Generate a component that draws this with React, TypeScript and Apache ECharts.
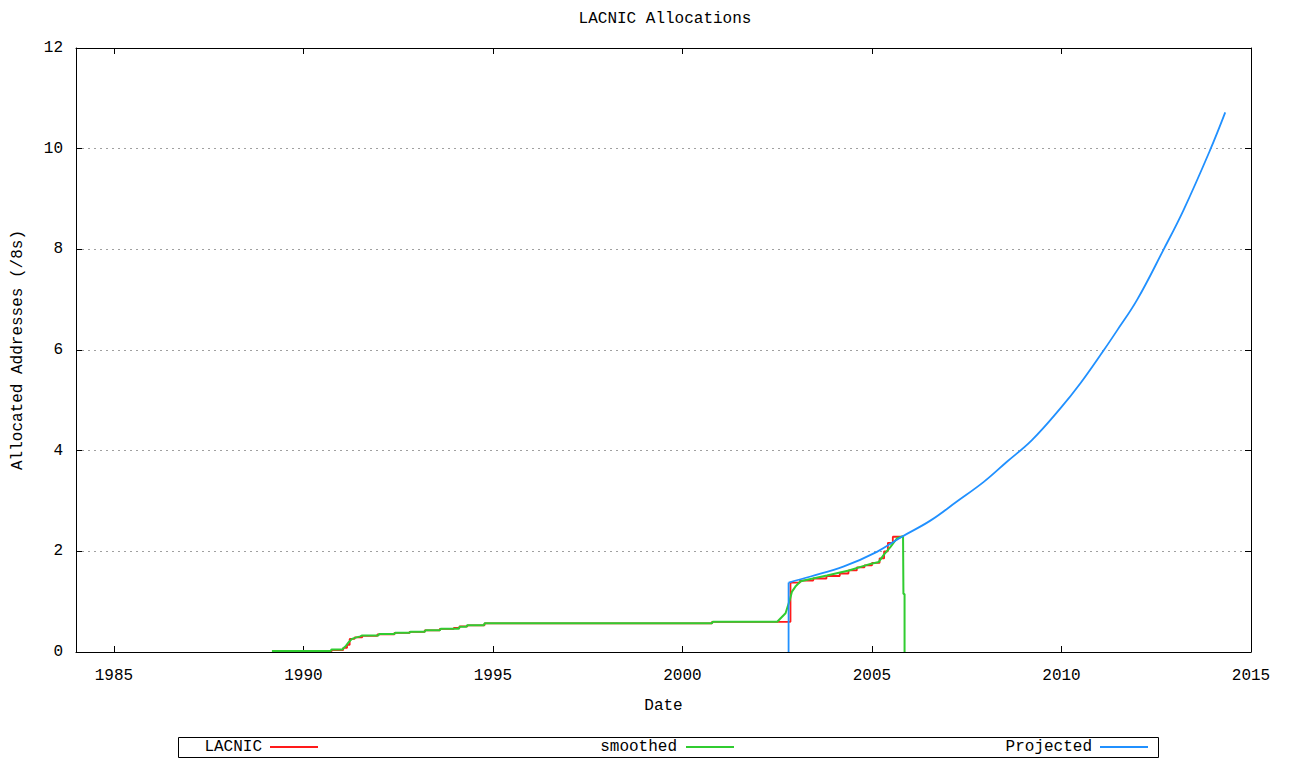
import React, { useEffect, useRef } from "react";
import * as echarts from "echarts";

const titleText = "LACNIC Allocations";
const xTicks = [1985, 1990, 1995, 2000, 2005, 2010, 2015];
const yTicks = [0, 2, 4, 6, 8, 10, 12];

// Cumulative allocations (step after each allocation date)
const lacnic: [number, number][] = [
  [1989.17, 0.02], [1990.75, 0.04], [1991.05, 0.08], [1991.15, 0.14], [1991.22, 0.26],
  [1991.35, 0.29], [1991.55, 0.32], [1991.95, 0.35], [1992.4, 0.38], [1992.8, 0.40],
  [1993.2, 0.43], [1993.6, 0.46], [1993.97, 0.48], [1994.12, 0.51], [1994.33, 0.53],
  [1994.78, 0.57], [2000.78, 0.60], [2002.85, 1.38], [2003.1, 1.42], [2003.45, 1.46],
  [2003.8, 1.51], [2004.15, 1.56], [2004.38, 1.62], [2004.6, 1.68], [2004.8, 1.72],
  [2005.0, 1.77], [2005.2, 1.86], [2005.32, 2.0], [2005.42, 2.17], [2005.55, 2.29],
  [2005.8, 2.29],
];

const smoothed: [number, number][] = [
  [1989.17, 0.02], [1990.72, 0.02], [1990.74, 0.05], [1991.03, 0.05], [1991.06, 0.08],
  [1991.12, 0.12], [1991.2, 0.2], [1991.28, 0.26], [1991.4, 0.29], [1991.5, 0.31],
  [1991.55, 0.33], [1991.98, 0.33], [1992.0, 0.36], [1992.4, 0.36], [1992.42, 0.38],
  [1992.8, 0.38], [1992.82, 0.40], [1993.2, 0.40], [1993.22, 0.43], [1993.6, 0.43],
  [1993.62, 0.46], [1994.1, 0.46], [1994.12, 0.50], [1994.3, 0.50], [1994.32, 0.53],
  [1994.76, 0.53], [1994.78, 0.57], [2000.78, 0.57], [2000.8, 0.60], [2002.5, 0.60],
  [2002.72, 0.77], [2002.83, 1.03], [2002.89, 1.2], [2002.98, 1.3], [2003.11, 1.40],
  [2003.2, 1.42], [2003.81, 1.52], [2004.39, 1.62], [2004.96, 1.75], [2005.18, 1.79],
  [2005.31, 1.93], [2005.49, 2.09], [2005.66, 2.26], [2005.82, 2.30], [2005.83, 1.15],
  [2005.86, 1.15], [2005.86, 0],
];

const projectedStart: [number, number][] = [
  [2002.8, 0], [2002.8, 1.38],
];

const projected: [number, number][] = [
  [2002.8, 1.38], [2003.38, 1.50], [2004.26, 1.70], [2005.13, 1.99],
  [2005.79, 2.29], [2006.54, 2.61], [2007.24, 2.99], [2007.95, 3.38], [2008.56, 3.78],
  [2009.22, 4.21], [2009.97, 4.84], [2010.5, 5.34], [2011.11, 5.99],
  [2011.46, 6.38], [2011.99, 6.99], [2012.69, 7.99], [2013.22, 8.78], [2013.92, 9.97],
  [2014.32, 10.72],
];

const seriesNames = ["LACNIC", "smoothed", "Projected"];
const seriesColors = ["#ff1a1a", "#30cc30", "#2090ff"];

const FONT = '"Liberation Mono", "DejaVu Sans Mono", monospace';

export default function App() {
  const ref = useRef<HTMLDivElement>(null);
  useEffect(() => {
    if (!ref.current) return;
    const chart = echarts.init(ref.current, undefined, { renderer: "svg" });
    const axisCommon = {
      axisLine: { show: true, onZero: false, lineStyle: { color: "#000", width: 1 } },
    };
    const legendY = 747;
    const legendItems = [
      { textRight: 262, x1: 270, x2: 318 },
      { textRight: 677, x1: 686, x2: 734 },
      { textRight: 1092, x1: 1100, x2: 1148 },
    ];
    const graphic: any[] = [
      {
        type: "rect",
        shape: { x: 178.5, y: 737.5, width: 980, height: 20 },
        style: { fill: "none", stroke: "#000", lineWidth: 1 },
      },
    ];
    legendItems.forEach((it, i) => {
      graphic.push({
        type: "text",
        x: it.textRight,
        y: legendY,
        style: {
          text: seriesNames[i],
          align: "right",
          verticalAlign: "middle",
          fontFamily: FONT,
          fontSize: 16,
          fill: "#000",
        },
      });
      graphic.push({
        type: "line",
        shape: { x1: it.x1, y1: legendY, x2: it.x2, y2: legendY },
        style: { stroke: seriesColors[i], lineWidth: 2 },
      });
    });

    const lw = 1.8;
    chart.setOption({
      animation: false,
      backgroundColor: "#fff",
      textStyle: { fontFamily: FONT },
      title: {
        text: titleText,
        left: 660,
        top: 6,
        textAlign: "center",
        textStyle: { fontFamily: FONT, fontSize: 16, fontWeight: "normal", color: "#000" },
      },
      grid: { left: 76, right: 38, top: 48, bottom: 108 },
      xAxis: [
        {
          type: "value",
          position: "bottom",
          min: 1984,
          max: 2015,
          name: "Date",
          nameLocation: "middle",
          nameGap: 46,
          nameTextStyle: { fontFamily: FONT, fontSize: 16, color: "#000" },
          ...axisCommon,
          axisTick: { show: true, inside: true, length: 6, customValues: xTicks, lineStyle: { color: "#000" } },
          axisLabel: {
            show: true,
            customValues: xTicks,
            margin: 16,
            fontFamily: FONT,
            fontSize: 16,
            color: "#000",
            formatter: (v: number) => String(v),
          },
          splitLine: { show: false },
        },
        {
          type: "value",
          position: "top",
          min: 1984,
          max: 2015,
          ...axisCommon,
          axisTick: { show: true, inside: true, length: 6, customValues: xTicks, lineStyle: { color: "#000" } },
          axisLabel: { show: false },
          splitLine: { show: false },
        },
      ],
      yAxis: [
        {
          type: "value",
          position: "left",
          min: 0,
          max: 12,
          interval: 2,
          name: "Allocated Addresses (/8s)",
          nameLocation: "middle",
          nameGap: 50,
          nameTextStyle: { fontFamily: FONT, fontSize: 16, color: "#000" },
          ...axisCommon,
          axisTick: { show: true, inside: true, length: 6, lineStyle: { color: "#000" } },
          axisLabel: { show: true, margin: 13, fontFamily: FONT, fontSize: 16, color: "#000" },
          splitLine: { show: true, lineStyle: { color: "#a0a0a0", type: [2, 4], width: 1 } },
        },
        {
          type: "value",
          position: "right",
          min: 0,
          max: 12,
          interval: 2,
          ...axisCommon,
          axisTick: { show: true, inside: true, length: 6, lineStyle: { color: "#000" } },
          axisLabel: { show: false },
          splitLine: { show: false },
        },
      ],
      series: [
        {
          name: seriesNames[0],
          type: "line",
          step: "end",
          data: lacnic,
          showSymbol: false,
          symbol: "none",
          lineStyle: { color: seriesColors[0], width: lw },
          itemStyle: { color: seriesColors[0] },
        },
        {
          name: seriesNames[1],
          type: "line",
          data: smoothed,
          showSymbol: false,
          symbol: "none",
          lineStyle: { color: seriesColors[1], width: 2 },
          itemStyle: { color: seriesColors[1] },
        },
        {
          name: seriesNames[2],
          type: "line",
          data: projectedStart,
          showSymbol: false,
          symbol: "none",
          lineStyle: { color: seriesColors[2], width: lw },
          itemStyle: { color: seriesColors[2] },
        },
        {
          name: seriesNames[2],
          type: "line",
          data: projected,
          smooth: 0.4,
          showSymbol: false,
          symbol: "none",
          lineStyle: { color: seriesColors[2], width: lw },
          itemStyle: { color: seriesColors[2] },
        },
      ],
      graphic,
    });
    return () => chart.dispose();
  }, []);
  return (
    <div
      ref={ref}
      style={{ position: "absolute", left: 0, top: 0, width: 1289, height: 760 }}
    />
  );
}
